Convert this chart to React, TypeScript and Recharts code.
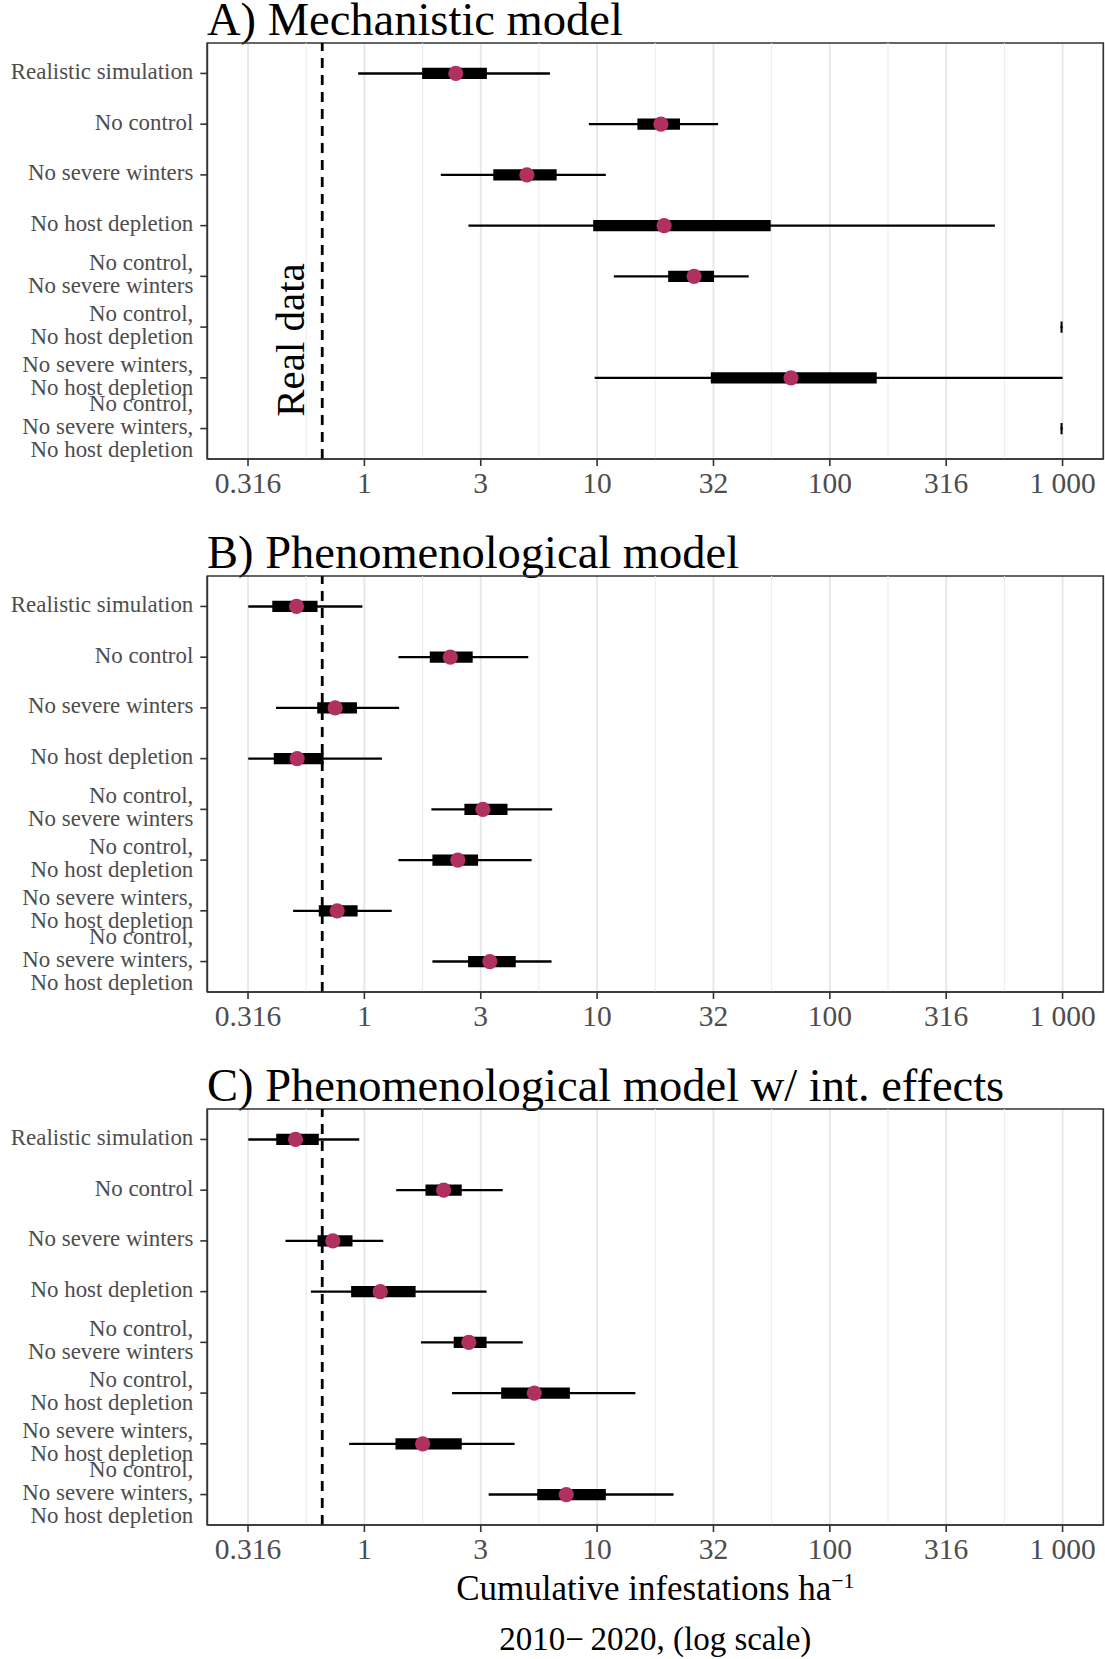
import React from 'react';
import { ScatterChart, Scatter, XAxis, YAxis, CartesianGrid, ReferenceLine, ReferenceArea } from 'recharts';

const FONT = '"Liberation Serif", "Times New Roman", serif';

// scenario labels, top to bottom (line breaks as in the figure)
const CATEGORIES = [
  'Realistic simulation',
  'No control',
  'No severe winters',
  'No host depletion',
  'No control,\nNo severe winters',
  'No control,\nNo host depletion',
  'No severe winters,\nNo host depletion',
  'No control,\nNo severe winters,\nNo host depletion',
];

const TICK_VALUES = [0.3162, 1, 3.162, 10, 31.62, 100, 316.2, 1000];
const TICK_LABELS = ['0.316', '1', '3', '10', '32', '100', '316', '1 000'];
const MINOR_VALUES = [0.5623, 1.778, 5.623, 17.78, 56.23, 177.8, 562.3];

const REAL_DATA = 0.659;

// A) Mechanistic model
const A_LOW = [0.94, 9.22, 2.13, 2.8, 11.8, 980, 9.76, 980];
const A_Q_LOW = [1.77, 14.9, 3.58, 9.62, 20.2, 980, 30.8, 980];
const A_MED = [2.47, 18.8, 4.99, 19.4, 26.1, null, 68.1, null];
const A_Q_HIGH = [3.36, 22.7, 6.7, 55.7, 31.8, 1000, 159, 1000];
const A_HIGH = [6.27, 33.1, 10.9, 512, 44.8, 1000, 1000, 1000];

// B) Phenomenological model
const B_LOW = [0.317, 1.4, 0.417, 0.317, 1.94, 1.4, 0.494, 1.96];
const B_Q_LOW = [0.402, 1.91, 0.627, 0.408, 2.69, 1.96, 0.637, 2.79];
const B_MED = [0.511, 2.34, 0.749, 0.514, 3.23, 2.52, 0.764, 3.46];
const B_Q_HIGH = [0.629, 2.92, 0.929, 0.668, 4.12, 3.08, 0.935, 4.47];
const B_HIGH = [0.98, 5.06, 1.41, 1.19, 6.41, 5.23, 1.31, 6.37];

// C) Phenomenological model w/ int. effects
const C_LOW = [0.317, 1.37, 0.458, 0.589, 1.75, 2.38, 0.86, 3.42];
const C_Q_LOW = [0.418, 1.83, 0.629, 0.877, 2.42, 3.87, 1.36, 5.53];
const C_MED = [0.506, 2.19, 0.732, 1.17, 2.81, 5.37, 1.78, 7.37];
const C_Q_HIGH = [0.637, 2.62, 0.889, 1.66, 3.35, 7.64, 2.62, 10.9];
const C_HIGH = [0.95, 3.93, 1.205, 3.35, 4.79, 14.6, 4.42, 21.3];

const X_MIN = Math.pow(10, -0.675);
const X_MAX = Math.pow(10, 3.175);
const ROWS = CATEGORIES.map((_, i) => i + 1);

const POINT_COLOR = '#b03060';
const PLOT_H = 416;

const RowTick = (props: any) => {
  const { x, y, payload } = props;
  const lines = CATEGORIES[payload.value - 1].split('\n');
  const lh = 22.8;
  return (
    <text x={x} y={y} textAnchor="end" fill="#4d4d4d" fontSize={22.9} fontFamily={FONT}>
      {lines.map((l, i) => (
        <tspan key={i} x={x} y={y + (i - (lines.length - 1) / 2) * lh + 5.5}>
          {l}
        </tspan>
      ))}
    </text>
  );
};

const Dot = (props: any) => <circle cx={props.cx} cy={props.cy} r={7.6} fill={POINT_COLOR} />;
const NoShape = () => <g />;

const realDataLabel = (props: any) => {
  const vb = props.viewBox || {};
  const x = vb.x - 18;
  const y = vb.y + 297;
  return (
    <text x={x} y={y} textAnchor="middle" fontSize={41} fontFamily={FONT} fill="#000" transform={`rotate(-90 ${x} ${y})`}>
      Real data
    </text>
  );
};

type PanelProps = {
  top: number;
  title: string;
  lo: number[];
  qlo: number[];
  med: (number | null)[];
  qhi: number[];
  hi: number[];
  showLabel?: boolean;
};

const Panel = ({ top, title, lo, qlo, med, qhi, hi, showLabel }: PanelProps) => {
  const points = med
    .map((m, i) => (m == null ? null : { x: m, y: i + 1 }))
    .filter((p) => p !== null) as { x: number; y: number }[];
  return (
    <>
      <div
        style={{
          position: 'absolute',
          left: 207,
          top: top - 7.5 - 32.7,
          fontSize: 46.5,
          lineHeight: '34px',
          fontFamily: FONT,
          color: '#000',
          whiteSpace: 'nowrap',
        }}
      >
        {title}
      </div>
      <div style={{ position: 'absolute', left: 0, top: top - 43 }}>
        <ScatterChart width={1105} height={43 + PLOT_H + 60} margin={{ top: 43, right: 1.7, bottom: 0, left: 0 }}>
          <CartesianGrid horizontal={false} stroke="#e6e6e6" strokeWidth={1.8} />
          {MINOR_VALUES.map((v) => (
            <ReferenceLine key={v} x={v} stroke="#ebebeb" strokeWidth={1} />
          ))}
          <XAxis
            type="number"
            dataKey="x"
            scale="log"
            domain={[X_MIN, X_MAX]}
            allowDataOverflow
            ticks={TICK_VALUES}
            interval={0}
            tickFormatter={(v: number) => TICK_LABELS[TICK_VALUES.indexOf(v)] ?? String(v)}
            height={60}
            tickSize={7}
            tickMargin={5.8}
            axisLine={{ stroke: '#333', strokeWidth: 1.6 }}
            tickLine={{ stroke: '#333', strokeWidth: 1.6 }}
            tick={{ fill: '#4d4d4d', fontSize: 29.5, fontFamily: FONT }}
          />
          <YAxis
            type="number"
            dataKey="y"
            domain={[0.4, 8.6]}
            allowDataOverflow
            reversed
            ticks={ROWS}
            interval={0}
            width={207.3}
            tickSize={7}
            tickMargin={7}
            axisLine={{ stroke: '#333', strokeWidth: 1.6 }}
            tickLine={{ stroke: '#333', strokeWidth: 1.6 }}
            tick={<RowTick />}
          />
          <ReferenceArea x1={X_MIN} x2={X_MAX} y1={0.4} y2={8.6} fill="none" stroke="#333" strokeWidth={1.6} />
          <ReferenceLine
            x={REAL_DATA}
            stroke="#000"
            strokeWidth={2.8}
            strokeDasharray="10 7"
            label={showLabel ? realDataLabel : undefined}
          />
          {ROWS.map((r, i) => (
            <Scatter
              key={`w${r}`}
              data={[
                { x: lo[i], y: r },
                { x: hi[i], y: r },
              ]}
              line={{ stroke: '#000', strokeWidth: 2.4 }}
              shape={NoShape}
              isAnimationActive={false}
            />
          ))}
          {ROWS.map((r, i) => (
            <Scatter
              key={`b${r}`}
              data={[
                { x: qlo[i], y: r },
                { x: qhi[i], y: r },
              ]}
              line={{ stroke: '#000', strokeWidth: 11.3 }}
              shape={NoShape}
              isAnimationActive={false}
            />
          ))}
          <Scatter data={points} shape={Dot} isAnimationActive={false} />
        </ScatterChart>
      </div>
    </>
  );
};

export default function App() {
  return (
    <div style={{ position: 'relative', width: 1105, height: 1659, background: '#fff', overflow: 'hidden' }}>
      <style>{'body{margin:0}'}</style>
      <Panel top={42.7} title="A) Mechanistic model" lo={A_LOW} qlo={A_Q_LOW} med={A_MED} qhi={A_Q_HIGH} hi={A_HIGH} showLabel />
      <Panel top={575.7} title="B) Phenomenological model" lo={B_LOW} qlo={B_Q_LOW} med={B_MED} qhi={B_Q_HIGH} hi={B_HIGH} />
      <Panel
        top={1109.3}
        title="C) Phenomenological model w/ int. effects"
        lo={C_LOW}
        qlo={C_Q_LOW}
        med={C_MED}
        qhi={C_Q_HIGH}
        hi={C_HIGH}
      />
      <div
        style={{
          position: 'absolute',
          left: 207.3,
          width: 896,
          top: 1563.7,
          fontSize: 35,
          lineHeight: '35px',
          textAlign: 'center',
          fontFamily: FONT,
          color: '#000',
          whiteSpace: 'nowrap',
        }}
      >
        Cumulative infestations ha<sup style={{ fontSize: '0.62em', verticalAlign: '0.55em' }}>−1</sup>
      </div>
      <div
        style={{
          position: 'absolute',
          left: 207.3,
          width: 896,
          top: 1622.5,
          fontSize: 33,
          lineHeight: '33px',
          textAlign: 'center',
          fontFamily: FONT,
          color: '#000',
          whiteSpace: 'nowrap',
        }}
      >
        2010{'\u2212\u2009'}2020, (log scale)
      </div>
    </div>
  );
}
